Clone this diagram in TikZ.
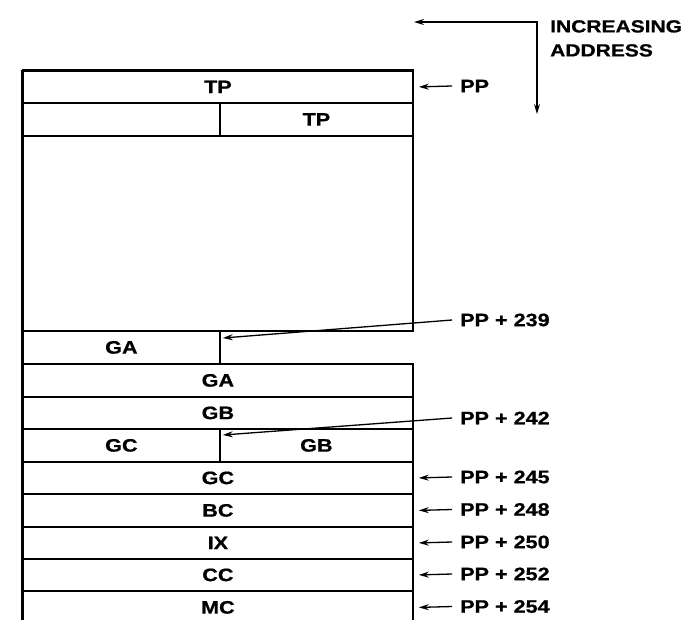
\documentclass[tikz,border=0pt]{standalone}
\usepackage{fontspec}
\setmainfont{Liberation Sans}[FakeStretch=1.2, BoldFeatures={FakeBold=0.8}]
\usetikzlibrary{arrows.meta}
\begin{document}
\begin{tikzpicture}[x=1pt,y=-1pt,
  font=\fontsize{18}{20}\selectfont\bfseries,
  cell/.style={draw, line width=1.8pt, inner sep=0pt, anchor=north west},
  full/.style={cell, minimum width=390pt, minimum height=#1},
  half/.style={cell, minimum width=197pt, minimum height=#1},
  halfr/.style={cell, minimum width=193pt, minimum height=#1},
  lab/.style={anchor=west, inner xsep=8pt, inner ysep=0pt},
  tip/.style={Stealth[length=10pt,width=6pt]},
  arr/.style={-{Stealth[length=10pt,width=6pt]}, line width=1.3pt}]
\useasboundingbox (0,0) rectangle (698,619);
% cells
\node[full=32pt]  (tp1)  at (22,70)  {TP};
\node[half=33pt]  (tp2l) at (22,102) {};
\node[halfr=33pt] (tp2r) at (219,102) {TP};
\node[full=195pt] (big)  at (22,135) {};
\node[half=33pt]  (gal)  at (22,330) {GA};
\node[full=33pt]  (ga)   at (22,363) {GA};
\node[full=32pt]  (gb)   at (22,396) {GB};
\node[half=33pt]  (gcl)  at (22,428) {GC};
\node[halfr=33pt] (gbr)  at (219,428) {GB};
\node[full=32pt]  (gc)   at (22,461) {GC};
\node[full=33pt]  (bc)   at (22,493) {BC};
\node[full=32pt]  (ix)   at (22,526) {IX};
\node[full=32pt]  (cc)   at (22,558) {CC};
\node[full=33pt]  (mc)   at (22,590) {MC};
\draw[line width=2.6pt] (tp1.north west) -- (mc.south west);
\draw[line width=2.4pt] (tp1.north west) -- (tp1.north east);
% labels
\node[lab] (lpp)  at (452,86)  {PP};
\node[lab] (l239) at (452,320) {PP + 239};
\node[lab] (l242) at (452,418) {PP + 242};
\node[lab] (l245) at (452,477) {PP + 245};
\node[lab] (l248) at (452,509.5) {PP + 248};
\node[lab] (l250) at (452,542) {PP + 250};
\node[lab] (l252) at (452,574) {PP + 252};
\node[lab] (l254) at (452,606.5) {PP + 254};
\draw[arr] (lpp.west)  -- ([xshift=5pt]tp1.east);
\draw[arr] (l239.west) -- ([xshift=2pt,yshift=-8pt]gal.north east);
\draw[arr] (l242.west) -- ([xshift=2pt,yshift=-7pt]gcl.north east);
\draw[arr] (l245.west) -- ([xshift=5pt]gc.east);
\draw[arr] (l248.west) -- ([xshift=5pt]bc.east);
\draw[arr] (l250.west) -- ([xshift=5pt]ix.east);
\draw[arr] (l252.west) -- ([xshift=5pt]cc.east);
\draw[arr] (l254.west) -- ([xshift=5pt]mc.east);
% increasing address
\node[anchor=north west, align=left, inner sep=0pt,
  font=\fontsize{17.5}{24}\selectfont\bfseries] (inc) at (550,20) {INCREASING\\ADDRESS};
\coordinate (corner) at (537,22);
\coordinate (leftend) at (414,22);
\coordinate (downend) at (537,114);
\draw[line width=1.3pt, {Stealth[length=10pt,width=6pt]}-{Stealth[length=10pt,width=6pt]}] (leftend) -- (corner) -- (downend);
\end{tikzpicture}
\end{document}
